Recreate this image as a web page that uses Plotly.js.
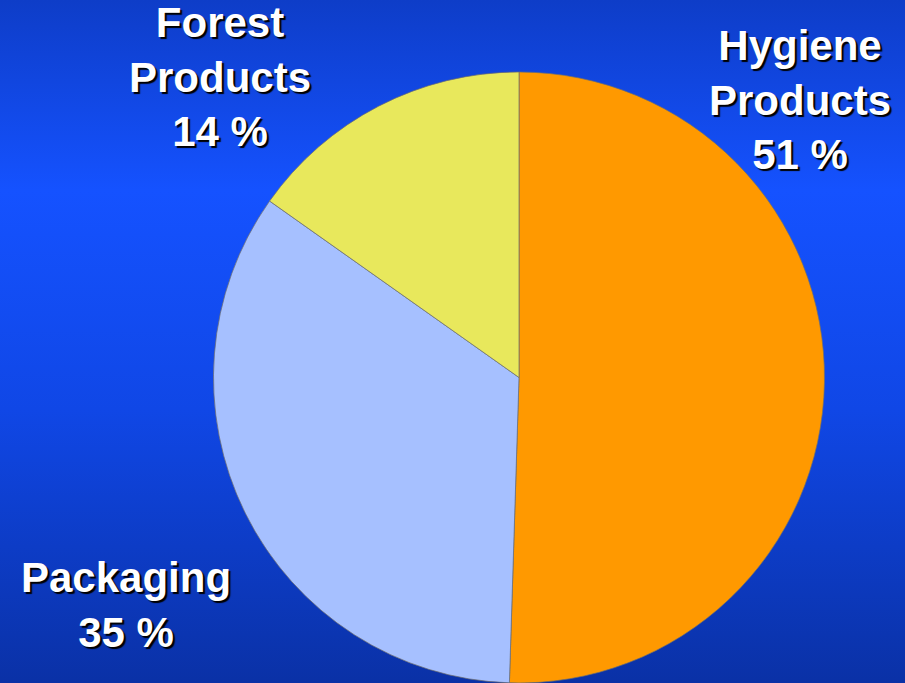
<!DOCTYPE html>
<html>
<head>
<meta charset="utf-8">
<script src="https://cdn.plot.ly/plotly-3.0.1.min.js"></script>
<style>
  html, body { margin: 0; padding: 0; }
  body {
    width: 905px; height: 683px; overflow: hidden;
    background: linear-gradient(to bottom, #0e3dc8 0%, #1552ff 28%, #1047e6 60%, #0a31a6 100%);
  }
  #chart { width: 905px; height: 683px; }
</style>
</head>
<body>
<div id="chart"></div>
<script>
// Data
const categories = ["Hygiene Products", "Packaging", "Forest Products"];
const values = [50.5, 34.3, 15.2];               // slice sizes
const labelLines = [["Hygiene", "Products", "51 %"], ["Packaging", "35 %"], ["Forest", "Products", "14 %"]];
const sliceColors = ["#ff9900", "#a6c0ff", "#e8e85c"];

const labelPos = [
  {x: 800, y: 100},
  {x: 126, y: 605},
  {x: 220, y: 77}
];

const W = 905, H = 683;

const trace = {
  type: "pie",
  labels: categories,
  values: values,
  sort: false,
  direction: "clockwise",
  rotation: 0,
  textinfo: "none",
  hoverinfo: "label+percent",
  marker: { colors: sliceColors, line: { color: "rgba(110,110,110,0.7)", width: 1 } },
  domain: { x: [213 / W, 825 / W], y: [0, 1 - 72 / H] },
  showlegend: false
};

const annotations = labelLines.map((lines, i) => ({
  text: lines.join("<br>"),
  xref: "paper", yref: "paper",
  x: labelPos[i].x / W, y: 1 - labelPos[i].y / H,
  xanchor: "center", yanchor: "middle",
  showarrow: false,
  align: "center",
  font: { family: "Liberation Sans, Arial, sans-serif", size: 42, color: "#ffffff", weight: "bold",
          shadow: "2px 2px 1px #000000" }
}));

const layout = {
  width: W, height: H,
  margin: { l: 0, r: 0, t: 0, b: 0 },
  paper_bgcolor: "rgba(0,0,0,0)",
  plot_bgcolor: "rgba(0,0,0,0)",
  annotations: annotations,
  showlegend: false
};

Plotly.newPlot("chart", [trace], layout, { displayModeBar: false, staticPlot: true });
</script>
</body>
</html>
